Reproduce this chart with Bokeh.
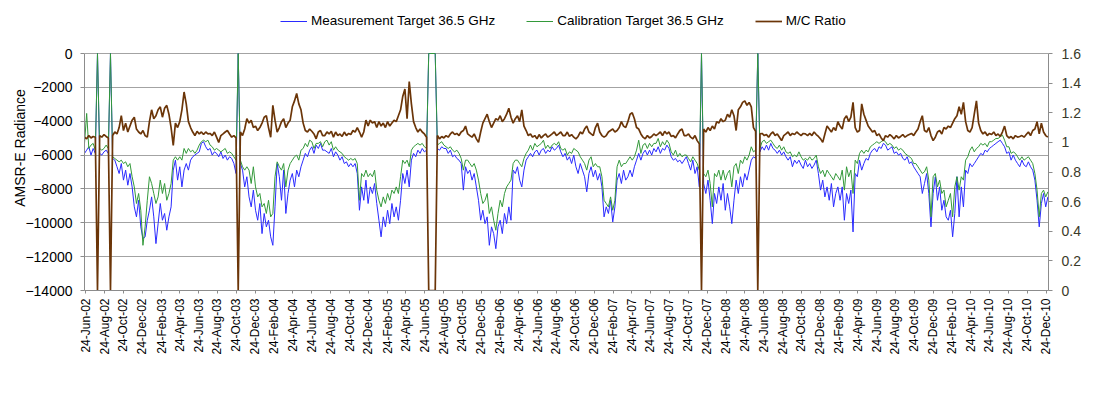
import math
import pandas as pd
from bokeh.plotting import figure
from bokeh.models import (Range1d, LinearAxis, FixedTicker, DatetimeTickFormatter,
                          CustomJSTickFormatter, Legend, LegendItem, ColumnDataSource)
from bokeh.embed import file_html
from bokeh.resources import INLINE

# ---------------- data (weekly samples) ----------------
first_week = "2002-06-20"

measurement = [
    -5900, -5710, -5510, -6000, -5610, -5900, 0, -5900, -6000, -5810,
    -5710, -5900, 0, -6200, -6300, -6690, -7090, -6500, -7480, -6890,
    -7780, -7090, -7880, -9060, -9650, -8670, -10240, -10930, -10830, -9850,
    -9260, -8470, -9650, -11230, -10050, -8860, -9850, -9450, -10440, -9650,
    -9060, -6890, -6300, -7480, -6690, -7880, -6890, -6500, -6890, -6300,
    -6100, -6000, -5900, -5810, -5310, -5210,
    -5510, -5710, -5610, -6000, -5810, -5900, -6100, -5810, -6200, -6000,
    -6300, -6100, -6200, -6500, -7090, 0, -6500, -6890, -7880, -7280,
    -8470, -9060, -8070, -9260, -9850, -8860, -10640, -9450, -10240, -9850,
    -10830, -11330, -9060, -6500, -7280, -8670, -6890, -9450, -8270, -7480,
    -7090, -7880, -6890, -7280, -6690, -6300, -5900, -6100, -5710, -5510,
    -5900, -5410, -5610, -5310, -5710,
    -5710, -5810, -5900, -5610, -6100, -5810, -6000, -6300, -6100, -6500,
    -6400, -6690, -6500, -6690, -6500, -7090, -9260, -7880, -8670, -7480,
    -8860, -7880, -8270, -7680, -8860, -9850, -10830, -9650, -10240, -9260,
    -10050, -8860, -9650, -9060, -9850, -8670, -7090, -7680, -6890, -7880,
    -6300, -5900, -6100, -5710, -5900, -5610, -5810, -5710, 0, 0,
    0, 0, -5610, -5710, -5510, -5610,
    -5610, -5900, -5710, -6100, -6000, -6200, -6300, -6500, -8070, -6690,
    -7090, -6890, -7480, -7090, -7880, -8670, -9850, -9260, -10050, -9650,
    -11330, -10240, -10640, -11530, -10240, -9850, -10640, -9450, -10050, -9060,
    -9850, -6890, -7090, -6690, -7480, -7880, -6890, -6300, -6100, -5900,
    -6100, -5810, -5710, -6000, -5710, -5610, -5900, -5710, -5810, -5510,
    -5710, -5610, -5410, -5810, -6100,
    -5900, -6300, -6100, -6500, -6000, -6690, -7090, -6500, -6890, -7280,
    -8170, -7090, -6690, -7280, -6890, -7480, -7090, -7880, -9650, -9060,
    -9450, -8670, -9950, -9060, -7480, -7090, -7680, -6890, -7480, -7280,
    -6890, -7280, -6690, -6300, -5900, -6300, -5900, -5710, -6000, -5710,
    -6000, -5610, -5810, -5510, -5900, -5610, -5710, -5410, -5610, -6100,
    -6300, -6200, -6400, -6300, -6500, -6300,
    -6100, -6500, -6890, -6300, -7090, -6690, -7880, 0, -7680, -8270,
    -7480, -8670, -10050, -8270, -8860, -7880, -8670, -7680, -9260, -8270,
    -9060, -10050, -8670, -7480, -8270, -7280, -7880, -7090, -7480, -6890,
    -6300, -6100, -6200, 0, -5810, -5510, -5710, -5410, -5710, -5310,
    -5610, -5710, -5900, -5710, -6000, -5810, -6100, -6300, -6100, -6690,
    -6300, -6500, -6300, -6590, -6790,
    -6300, -6690, -6500, -6790, -6590, -6300, -7090, -8070, -7480, -8470,
    -7880, -8670, -7680, -9060, -8270, -7880, -8670, -7880, -9850, -8270,
    -8860, -8070, -10540, -7090, -7280, -6300, -6890, -6500, -6200, -6300,
    -5900, -5710, -5610, -5810, -5510, -5610, -5310, -5410, -5710, -5610,
    -5510, -5900, -5810, -6000, -5900, -6200, -6300, -6100, -6500, -6400,
    -6690, -6890, -7090, -7280, -8270, -7680,
    -7090, -8270, -10240, -8270, -7280, -8670, -7880, -9260, -8670, -9650,
    -9850, -9260, -10830, -9450, -7280, -9650, -7880, -9060, -6890, -7090,
    -6500, -6690, -6500, -6300, -6100, -5900, -6000, -5710, -5810, -5610,
    -5510, -5410, -5310, -5210, -5120, -5310, -5510, -5900, -5810, -6300,
    -6000, -6300, -6500, -6690, -6300, -6590, -6690, -6400, -6690, -6890,
    -7480, -8670, -10240, -8860, -8270, -9060, -8470,
]

calibration = [
    -5310, -3540, -5610, -5410, -5310, -5710, 0, -5610, -5710, -5610,
    -5410, -5610, 0, -6100, -6200, -6300, -6400, -6300, -6500, -6400,
    -6690, -6500, -7280, -7880, -8860, -8270, -9260, -11330, -10240, -8670,
    -7280, -7680, -8270, -8860, -8470, -7480, -8270, -7680, -8670, -8270,
    -7680, -6300, -6100, -6300, -6100, -6300, -5610, -5900, -5610, -5810,
    -5710, -5900, -5710, -5410, -5210, -5120,
    -5210, -5120, -5410, -5510, -5710, -5610, -5710, -5810, -5710, -5610,
    -5900, -5810, -5900, -6100, -6300, 0, -6300, -6690, -6890, -6690,
    -6890, -7680, -6690, -7880, -8470, -8270, -9060, -8860, -9450, -8670,
    -9650, -9450, -7280, -6400, -6690, -6890, -6500, -7880, -6890, -6500,
    -6300, -6100, -6000, -6300, -5710, -5610, -5310, -5510, -5120, -5210,
    -5610, -5310, -5310, -5210, -5510,
    -5210, -5120, -5410, -5210, -5710, -5510, -5710, -5810, -5900, -6100,
    -6200, -6300, -6200, -6300, -6200, -6500, -8670, -7090, -7280, -6890,
    -7280, -7090, -7280, -6890, -8070, -8670, -9060, -8470, -8860, -8270,
    -8670, -8070, -8270, -7880, -8270, -7280, -6300, -6500, -6300, -6690,
    -5710, -5510, -5410, -5310, -5410, -5310, -5510, -5610, 0, 0,
    0, 0, -5410, -5310, -5210, -5410,
    -5510, -5610, -5510, -5710, -5810, -5710, -5900, -6200, -6890, -6300,
    -6300, -6500, -6690, -6500, -6890, -7480, -8270, -8860, -8670, -8270,
    -9450, -9060, -9850, -10440, -9450, -8670, -9060, -8270, -7880, -7680,
    -7480, -6500, -6300, -6300, -6500, -6690, -6200, -5900, -5710, -5410,
    -5710, -5310, -5510, -5410, -5310, -5120, -5610, -5410, -5610, -5410,
    -5310, -5410, -5210, -5610, -5710,
    -5610, -6000, -5810, -5900, -5610, -5710, -5810, -6100, -6300, -6500,
    -6890, -6300, -6100, -6690, -6500, -6690, -6690, -7280, -8670, -8860,
    -9060, -8470, -9260, -8670, -6690, -6300, -6690, -6500, -6500, -6300,
    -6100, -6300, -6100, -5710, -5120, -5900, -5410, -5310, -5610, -5310,
    -5510, -5310, -5310, -5020, -5510, -5210, -5410, -5120, -5310, -5810,
    -6000, -5710, -6100, -5900, -6100, -6000,
    -6000, -6200, -6400, -6100, -6300, -6500, -6890, 0, -7090, -7280,
    -6890, -7680, -9060, -7090, -7280, -6890, -7480, -6890, -7480, -7090,
    -6890, -7880, -6690, -6500, -7090, -6300, -6500, -6100, -6300, -6000,
    -5510, -5810, -5710, 0, -5610, -5210, -5120, -5310, -5210, -5120,
    -5310, -5510, -5610, -5410, -5710, -5510, -5810, -5900, -5810, -6100,
    -6000, -6100, -5810, -6100, -6300,
    -6200, -6300, -6100, -6300, -6200, -6000, -6690, -7090, -6890, -7280,
    -6890, -7090, -7280, -7480, -7090, -7280, -7480, -6890, -8070, -6690,
    -7280, -6890, -8270, -6300, -6500, -5900, -5710, -5900, -5710, -5810,
    -5510, -5410, -5310, -5210, -5310, -5210, -5120, -5210, -5410, -5310,
    -5410, -5610, -5510, -5710, -5610, -5710, -5900, -6000, -6100, -6200,
    -6500, -6500, -6690, -6890, -7090, -6990,
    -6690, -7480, -9650, -7280, -7090, -7880, -7480, -8270, -8070, -9060,
    -8670, -8270, -9650, -7880, -7280, -8070, -7280, -7480, -6300, -6100,
    -5710, -5510, -5810, -5610, -5510, -5310, -5410, -5310, -5510, -5210,
    -5210, -5120, -5020, -5020, -4920, -4820, -5120, -5510, -5510, -5900,
    -5810, -5900, -6100, -6300, -6100, -6300, -6200, -6100, -6300, -6500,
    -7090, -8070, -9650, -8270, -8070, -8470, -8170,
]

mc_ratio = [
    1.035, 1.024, 1.046, 1.03, 1.04, 1.035, 0, 1.046, 1.035, 1.053,
    1.04, 1.03, 0, 1.046, 1.07, 1.057, 1.10, 1.18, 1.08, 1.13,
    1.07, 1.11, 1.15, 1.17, 1.09, 1.07, 1.057, 1.08, 1.046, 1.035,
    1.14, 1.22, 1.16, 1.18, 1.22, 1.24, 1.17, 1.23, 1.25, 1.19,
    1.10, 0.98, 1.13, 1.10, 1.14, 1.22, 1.34, 1.26, 1.14, 1.10,
    1.07, 1.046, 1.075, 1.057, 1.07, 1.053,
    1.07, 1.057, 1.06, 1.046, 1.07, 1.035, 1.0, 1.046, 1.057, 1.07,
    1.08, 1.057, 1.035, 1.046, 1.03, 0, 1.07, 1.046, 1.09, 1.16,
    1.13, 1.15, 1.10, 1.11, 1.08, 1.10, 1.13, 1.17, 1.18, 1.10,
    1.035, 1.25, 1.15, 1.07, 1.10, 1.14, 1.16, 1.10, 1.13, 1.15,
    1.24, 1.28, 1.33, 1.26, 1.22, 1.13, 1.08, 1.07, 1.09, 1.075,
    1.057, 1.024, 1.07, 1.08, 1.046,
    1.046, 1.07, 1.057, 1.075, 1.035, 1.07, 1.046, 1.057, 1.04, 1.07,
    1.046, 1.06, 1.053, 1.08, 1.07, 1.10, 1.07, 1.035, 1.07, 1.15,
    1.11, 1.15, 1.13, 1.14, 1.10, 1.14, 1.11, 1.13, 1.10, 1.14,
    1.11, 1.13, 1.15, 1.14, 1.18, 1.22, 1.31, 1.36, 1.16, 1.41,
    1.26, 1.14, 1.10, 1.07, 1.09, 1.07, 1.057, 1.035, 0, 0,
    0, 0, 1.046, 1.024, 1.04, 1.03,
    1.046, 1.035, 1.057, 1.07, 1.053, 1.06, 1.046, 1.07, 1.08, 1.11,
    1.057, 1.046, 1.035, 1.057, 1.024, 1.0, 1.07, 1.13, 1.16, 1.19,
    1.14, 1.10, 1.13, 1.16, 1.15, 1.18, 1.14, 1.16, 1.19, 1.23,
    1.17, 1.13, 1.16, 1.18, 1.14, 1.22, 1.11, 1.08, 1.046, 1.057,
    1.035, 1.046, 1.024, 1.053, 1.03, 1.046, 1.057, 1.035, 1.046, 1.057,
    1.07, 1.046, 1.057, 1.07, 1.046,
    1.046, 1.07, 1.04, 1.053, 1.035, 1.024, 1.04, 1.07, 1.057, 1.09,
    1.11, 1.07, 1.057, 1.046, 1.10, 1.13, 1.07, 1.046, 1.035, 1.046,
    1.07, 1.08, 1.09, 1.07, 1.08, 1.10, 1.14, 1.11, 1.10, 1.14,
    1.19, 1.20, 1.16, 1.10, 1.09, 1.057, 1.035, 1.024, 1.046, 1.03,
    1.04, 1.057, 1.046, 1.057, 1.07, 1.046, 1.075, 1.057, 1.07, 1.04,
    1.046, 1.03, 1.057, 1.08, 1.09, 1.046,
    1.046, 1.057, 1.035, 1.024, 1.046, 1.012, 0.99, 0, 1.09, 1.07,
    1.10, 1.08, 1.11, 1.09, 1.14, 1.13, 1.16, 1.14, 1.15, 1.19,
    1.17, 1.22, 1.18, 1.08, 1.22, 1.24, 1.27, 1.28, 1.25, 1.27,
    1.24, 1.10, 1.075, 0, 1.057, 1.06, 1.046, 1.053, 1.035, 1.057,
    1.07, 1.046, 1.057, 1.035, 1.012, 1.046, 1.057, 1.07, 1.046, 1.06,
    1.053, 1.07, 1.057, 1.046, 1.06,
    1.057, 1.046, 1.06, 1.046, 1.07, 1.053, 1.04, 1.024, 1.0, 1.057,
    1.11, 1.09, 1.07, 1.10, 1.08, 1.14, 1.11, 1.09, 1.16, 1.18,
    1.14, 1.17, 1.27, 1.10, 1.07, 1.08, 1.26, 1.19, 1.15, 1.11,
    1.09, 1.07, 1.08, 1.046, 1.057, 1.03, 1.012, 1.046, 1.035, 1.053,
    1.04, 1.024, 1.046, 1.03, 1.04, 1.053, 1.035, 1.046, 1.053, 1.06,
    1.046, 1.07, 1.09, 1.14, 1.18, 1.08,
    1.07, 1.10, 1.046, 1.012, 1.035, 1.07, 1.08, 1.057, 1.10, 1.09,
    1.11, 1.10, 1.13, 1.16, 1.18, 1.24, 1.19, 1.27, 1.14, 1.08,
    1.07, 1.10, 1.19, 1.28, 1.13, 1.08, 1.057, 1.07, 1.046, 1.06,
    1.053, 1.07, 1.046, 1.057, 1.04, 1.07, 1.11, 1.046, 1.03, 1.04,
    1.024, 1.046, 1.035, 1.04, 1.046, 1.035, 1.053, 1.07, 1.046, 1.08,
    1.09, 1.14, 1.057, 1.13, 1.07, 1.046, 1.035,
]

tick_labels = [
    "24-Jun-02", "24-Aug-02", "24-Oct-02", "24-Dec-02", "24-Feb-03", "24-Apr-03",
    "24-Jun-03", "24-Aug-03", "24-Oct-03", "24-Dec-03", "24-Feb-04", "24-Apr-04",
    "24-Jun-04", "24-Aug-04", "24-Oct-04", "24-Dec-04", "24-Feb-05", "24-Apr-05",
    "24-Jun-05", "24-Aug-05", "24-Oct-05", "24-Dec-05", "24-Feb-06", "24-Apr-06",
    "24-Jun-06", "24-Aug-06", "24-Oct-06", "24-Dec-06", "24-Feb-07", "24-Apr-07",
    "24-Jun-07", "24-Aug-07", "24-Oct-07", "24-Dec-07", "24-Feb-08", "24-Apr-08",
    "24-Jun-08", "24-Aug-08", "24-Oct-08", "24-Dec-08", "24-Feb-09", "24-Apr-09",
    "24-Jun-09", "24-Aug-09", "24-Oct-09", "24-Dec-09", "24-Feb-10", "24-Apr-10",
    "24-Jun-10", "24-Aug-10", "24-Oct-10", "24-Dec-10",
]
left_ticks = [-14000, -12000, -10000, -8000, -6000, -4000, -2000, 0]
right_ticks = [0, 0.2, 0.4, 0.6, 0.8, 1.0, 1.2, 1.4, 1.6]
left_min, left_max = -14000, 0
right_min, right_max = 0, 1.6

# ---------------- build ----------------
n = min(len(measurement), len(calibration), len(mc_ratio))
dates = pd.date_range(first_week, periods=n, freq="7D")
src = ColumnDataSource(dict(date=dates, meas=measurement[:n], cal=calibration[:n], ratio=mc_ratio[:n]))

FONT = "Liberation Sans"

# The frame is extended upward to hold the legend; the axes are bounded to the
# value ranges, so the data area itself spans 237 px (as in the reference).
PLOT_H = 237           # px height of the value area
HEAD = 48              # px of legend headroom above the value area
ext = (PLOT_H + HEAD) / PLOT_H
left_range = Range1d(left_min, left_min + (left_max - left_min) * ext)
right_range = Range1d(right_min, right_min + (right_max - right_min) * ext)

p = figure(width=1097, height=384, x_axis_type="datetime",
           output_backend="svg", toolbar_location=None,
           x_range=Range1d(pd.Timestamp("2002-06-20"), pd.Timestamp("2011-01-01")),
           y_range=left_range,
           min_border_left=84, min_border_right=49, min_border_top=53 - HEAD, min_border_bottom=94)
p.outline_line_color = None
p.background_fill_color = "white"
p.border_fill_color = "white"

p.extra_y_ranges = {"ratio": right_range}

r_meas = p.line("date", "meas", source=src, line_color="#2a2aff", line_width=1)
r_cal = p.line("date", "cal", source=src, line_color="#33993a", line_width=1)
r_ratio = p.line("date", "ratio", source=src, y_range_name="ratio", line_color="#6b3508", line_width=1.7)

# x axis
tick_ms = [pd.Timestamp(t).value // 10**6 for t in pd.to_datetime(tick_labels, format="%d-%b-%y")]
xa = p.xaxis[0]
xa.ticker = FixedTicker(ticks=tick_ms)
fmt = "%d-%b-%y"
xa.formatter = DatetimeTickFormatter(milliseconds=fmt, seconds=fmt, minsec=fmt, minutes=fmt,
                                     hourmin=fmt, hours=fmt, days=fmt, months=fmt, years=fmt)
xa.major_label_orientation = math.pi / 2
xa.major_label_text_font = FONT
xa.major_label_text_font_size = "12px"
xa.major_label_text_color = "#000000"
xa.axis_line_color = "#8c8c8c"
xa.major_tick_line_color = "#8c8c8c"
xa.major_tick_out = 3
xa.major_tick_in = 0
xa.minor_tick_line_color = None
xa.major_label_standoff = 5

# left axis
ya = p.yaxis[0]
ya.ticker = FixedTicker(ticks=left_ticks)
ya.bounds = (left_min, left_max)
ya.axis_label = "AMSR-E Radiance"
ya.axis_label_text_font = FONT
ya.axis_label_text_font_size = "14px"
ya.axis_label_text_font_style = "normal"
ya.axis_label_text_color = "#000000"
ya.axis_label_standoff = -6
ya.major_label_text_font = FONT
ya.major_label_text_font_size = "14px"
ya.major_label_text_color = "#000000"
ya.major_label_standoff = 8
ya.axis_line_color = "#8c8c8c"
ya.major_tick_line_color = "#8c8c8c"
ya.major_tick_out = 4
ya.major_tick_in = 0
ya.minor_tick_line_color = None

# right axis
ra = LinearAxis(y_range_name="ratio", ticker=FixedTicker(ticks=right_ticks),
                bounds=(right_min, right_max),
                formatter=CustomJSTickFormatter(code="return String(Math.round(tick*10)/10);"))
ra.major_label_text_font = FONT
ra.major_label_text_font_size = "14px"
ra.major_label_text_color = "#3a3a2a"
ra.major_label_standoff = 9
ra.axis_line_color = "#8c8c8c"
ra.major_tick_line_color = "#8c8c8c"
ra.major_tick_out = 4
ra.major_tick_in = 0
ra.minor_tick_line_color = None
p.add_layout(ra, "right")

# grids
p.xgrid.grid_line_color = None
p.ygrid.ticker = FixedTicker(ticks=left_ticks)
p.ygrid.grid_line_color = "#a3a3a3"
p.ygrid.grid_line_width = 1

# legend, inside the headroom above the value area
legend = Legend(items=[
    LegendItem(label="Measurement Target 36.5 GHz", renderers=[r_meas]),
    LegendItem(label="Calibration Target 36.5 GHz", renderers=[r_cal]),
    LegendItem(label="M/C Ratio", renderers=[r_ratio]),
], location=(196, PLOT_H + 25), orientation="horizontal")
legend.label_text_font = FONT
legend.label_text_font_size = "13.5px"
legend.label_text_color = "#000000"
legend.glyph_width = 27
legend.glyph_height = 14
legend.label_height = 14
legend.label_standoff = 4
legend.spacing = 31
legend.padding = 0
legend.margin = 0
legend.border_line_color = None
legend.background_fill_alpha = 0
p.add_layout(legend)

open("out.html", "w").write(file_html(p, INLINE))
